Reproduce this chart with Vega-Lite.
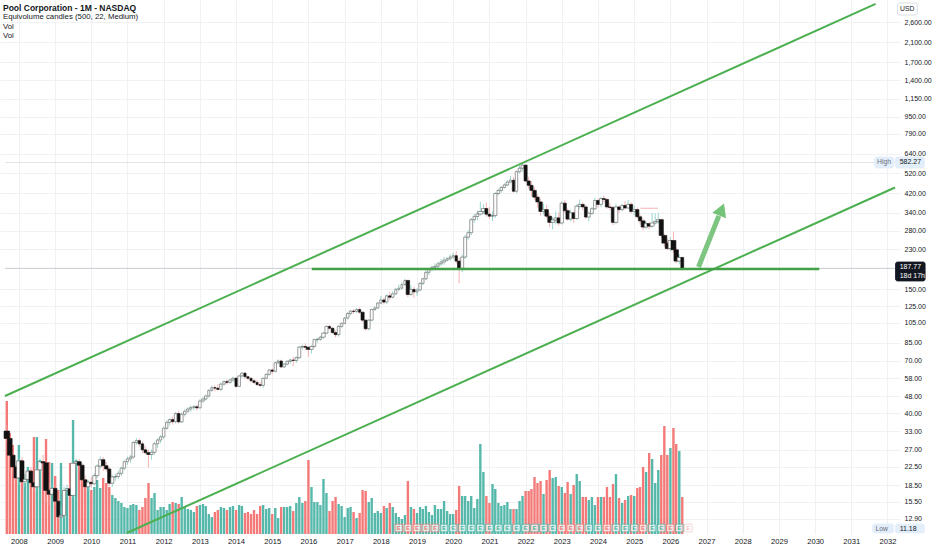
{
  "$schema": "https://vega.github.io/schema/vega-lite/v6.json",
  "width": 900,
  "height": 534,
  "autosize": "none",
  "padding": {"left": 0, "top": 0, "right": 32, "bottom": 16},
  "background": "#ffffff",
  "config": {"font": "Liberation Sans", "view": {"stroke": null}},
  "title": {
    "text": "Pool Corporation - 1M - NASDAQ",
    "subtitle": ["Equivolume candles (500, 22, Medium)", "Vol", "Vol"],
    "anchor": "start",
    "frame": "group",
    "orient": "top",
    "offset": -40,
    "dx": 3,
    "fontSize": 8.5,
    "fontWeight": "bold",
    "color": "#131722",
    "subtitleFontSize": 7.8,
    "subtitleColor": "#131722",
    "subtitlePadding": 1,
    "subtitleLineHeight": 9.5
  },
  "datasets": {
    "candles": [
      {"d":"2007-09-01","o":33,"h":35,"l":29.5,"c":30.5,"v":13.3},
      {"d":"2007-10-01","o":30.5,"h":31.5,"l":24.5,"c":25.5,"v":10.1},
      {"d":"2007-11-01","o":25.5,"h":26.5,"l":21,"c":22.5,"v":8.9},
      {"d":"2007-12-01","o":22.5,"h":23,"l":19.5,"c":20,"v":6.1},
      {"d":"2008-01-01","o":20,"h":24.8,"l":18.5,"c":24,"v":8.9},
      {"d":"2008-02-01","o":24,"h":25,"l":18.8,"c":19.2,"v":7.4},
      {"d":"2008-03-01","o":19.2,"h":20.8,"l":18.2,"c":19.7,"v":5.1},
      {"d":"2008-04-01","o":19.7,"h":22.3,"l":19.2,"c":21.5,"v":6.7},
      {"d":"2008-05-01","o":21.5,"h":22.4,"l":18.7,"c":19,"v":6.4},
      {"d":"2008-06-01","o":19,"h":19.6,"l":17.5,"c":18.2,"v":9.7},
      {"d":"2008-07-01","o":18.2,"h":22.3,"l":17.4,"c":21.8,"v":9.7},
      {"d":"2008-08-01","o":21.8,"h":24.6,"l":21.2,"c":23.8,"v":7.4},
      {"d":"2008-09-01","o":23.8,"h":25.6,"l":21.5,"c":23.5,"v":7.2},
      {"d":"2008-10-01","o":23.5,"h":24,"l":15.4,"c":17.5,"v":9.5},
      {"d":"2008-11-01","o":17.5,"h":19,"l":15,"c":16.8,"v":7.2},
      {"d":"2008-12-01","o":16.8,"h":18.6,"l":15.5,"c":17.9,"v":7.1},
      {"d":"2009-01-01","o":17.9,"h":18.5,"l":15,"c":15.6,"v":5.8},
      {"d":"2009-02-01","o":15.6,"h":16,"l":12.8,"c":13.2,"v":4.4},
      {"d":"2009-03-01","o":13.2,"h":14.8,"l":11.18,"c":13.4,"v":7.1},
      {"d":"2009-04-01","o":13.4,"h":18.2,"l":13,"c":17.5,"v":4.4},
      {"d":"2009-05-01","o":17.5,"h":18.6,"l":16.3,"c":17.8,"v":4.6},
      {"d":"2009-06-01","o":17.8,"h":19,"l":16.2,"c":16.6,"v":7.1},
      {"d":"2009-07-01","o":16.6,"h":23.9,"l":16.2,"c":23.4,"v":11.4},
      {"d":"2009-08-01","o":23.4,"h":24.6,"l":22,"c":23.8,"v":7.4},
      {"d":"2009-09-01","o":23.8,"h":24.5,"l":21.6,"c":22.9,"v":7.2},
      {"d":"2009-10-01","o":22.9,"h":23.4,"l":19,"c":19.6,"v":6.6},
      {"d":"2009-11-01","o":19.6,"h":20.5,"l":17.8,"c":18.2,"v":5.4},
      {"d":"2009-12-01","o":18.2,"h":19.6,"l":17.6,"c":19.1,"v":4.7},
      {"d":"2010-01-01","o":19.1,"h":20.2,"l":18,"c":18.8,"v":4.4},
      {"d":"2010-02-01","o":18.8,"h":21,"l":18.5,"c":20.5,"v":4.7},
      {"d":"2010-03-01","o":20.5,"h":23.1,"l":20,"c":22.7,"v":5.4},
      {"d":"2010-04-01","o":22.7,"h":25.2,"l":22.1,"c":24.3,"v":4.6},
      {"d":"2010-05-01","o":24.3,"h":25,"l":21.5,"c":22.8,"v":5.6},
      {"d":"2010-06-01","o":22.8,"h":23.7,"l":21.4,"c":22,"v":5.1},
      {"d":"2010-07-01","o":22,"h":22.5,"l":18.4,"c":18.9,"v":4.7},
      {"d":"2010-08-01","o":18.9,"h":20.6,"l":18.2,"c":20.2,"v":3.9},
      {"d":"2010-09-01","o":20.2,"h":20.9,"l":19.4,"c":20.3,"v":3.6},
      {"d":"2010-10-01","o":20.3,"h":21.6,"l":19.8,"c":21,"v":3.3},
      {"d":"2010-11-01","o":21,"h":22.6,"l":20.5,"c":22.2,"v":3.1},
      {"d":"2010-12-01","o":22.2,"h":24.1,"l":21.8,"c":23.8,"v":2.7},
      {"d":"2011-01-01","o":23.8,"h":25.1,"l":23,"c":24.5,"v":2.6},
      {"d":"2011-02-01","o":24.5,"h":25.6,"l":23.6,"c":25,"v":2.9},
      {"d":"2011-03-01","o":25,"h":29.6,"l":24.6,"c":29.2,"v":3.0},
      {"d":"2011-04-01","o":29.2,"h":30.6,"l":28.5,"c":29.8,"v":2.9},
      {"d":"2011-05-01","o":29.8,"h":30.5,"l":28,"c":28.8,"v":2.4},
      {"d":"2011-06-01","o":28.8,"h":29.5,"l":26,"c":27,"v":2.7},
      {"d":"2011-07-01","o":27,"h":28,"l":25.8,"c":26.2,"v":3.6},
      {"d":"2011-08-01","o":26.2,"h":27,"l":22.4,"c":25.7,"v":5.1},
      {"d":"2011-09-01","o":25.7,"h":27.1,"l":24.3,"c":26.3,"v":3.6},
      {"d":"2011-10-01","o":26.3,"h":29.4,"l":25.6,"c":28.8,"v":4.1},
      {"d":"2011-11-01","o":28.8,"h":30.6,"l":27.6,"c":30,"v":2.4},
      {"d":"2011-12-01","o":30,"h":31.6,"l":29,"c":31,"v":2.7},
      {"d":"2012-01-01","o":31,"h":34.6,"l":30.4,"c":34,"v":2.7},
      {"d":"2012-02-01","o":34,"h":37,"l":33.5,"c":36.2,"v":2.4},
      {"d":"2012-03-01","o":36.2,"h":37.8,"l":35,"c":37.3,"v":3.0},
      {"d":"2012-04-01","o":37.3,"h":38.4,"l":35.4,"c":36.5,"v":3.2},
      {"d":"2012-05-01","o":36.5,"h":40.4,"l":35.8,"c":39.8,"v":3.1},
      {"d":"2012-06-01","o":39.8,"h":41,"l":35.8,"c":36.4,"v":3.0},
      {"d":"2012-07-01","o":36.4,"h":40.2,"l":36,"c":39.5,"v":3.7},
      {"d":"2012-08-01","o":39.5,"h":41.6,"l":38.6,"c":40.8,"v":2.7},
      {"d":"2012-09-01","o":40.8,"h":42.6,"l":40,"c":41.8,"v":2.5},
      {"d":"2012-10-01","o":41.8,"h":43.3,"l":40.6,"c":42.5,"v":2.4},
      {"d":"2012-11-01","o":42.5,"h":43.6,"l":41.2,"c":42.8,"v":2.2},
      {"d":"2012-12-01","o":42.8,"h":43.8,"l":41,"c":42.3,"v":2.8},
      {"d":"2013-01-01","o":42.3,"h":46.4,"l":42,"c":45.5,"v":2.9},
      {"d":"2013-02-01","o":45.5,"h":47.4,"l":44.6,"c":46.5,"v":3.0},
      {"d":"2013-03-01","o":46.5,"h":48.7,"l":45.8,"c":48,"v":2.8},
      {"d":"2013-04-01","o":48,"h":51.6,"l":47.2,"c":51,"v":2.0},
      {"d":"2013-05-01","o":51,"h":53.6,"l":50.2,"c":52.5,"v":1.7},
      {"d":"2013-06-01","o":52.5,"h":53.8,"l":50.4,"c":52.2,"v":2.2},
      {"d":"2013-07-01","o":52.2,"h":54.5,"l":51,"c":51.5,"v":2.4},
      {"d":"2013-08-01","o":51.5,"h":55.6,"l":50.8,"c":54.5,"v":2.7},
      {"d":"2013-09-01","o":54.5,"h":56.8,"l":53.6,"c":56,"v":2.6},
      {"d":"2013-10-01","o":56,"h":57.4,"l":54.2,"c":55.5,"v":2.4},
      {"d":"2013-11-01","o":55.5,"h":57.8,"l":54.8,"c":57,"v":2.7},
      {"d":"2013-12-01","o":57,"h":59,"l":55.8,"c":58.1,"v":2.8},
      {"d":"2014-01-01","o":58.1,"h":58.6,"l":52.2,"c":53.2,"v":2.4},
      {"d":"2014-02-01","o":53.2,"h":60,"l":52.8,"c":59.5,"v":2.9},
      {"d":"2014-03-01","o":59.5,"h":62,"l":58.4,"c":61.3,"v":2.8},
      {"d":"2014-04-01","o":61.3,"h":61.9,"l":57.6,"c":59,"v":2.1},
      {"d":"2014-05-01","o":59,"h":59.8,"l":56.8,"c":58,"v":2.2},
      {"d":"2014-06-01","o":58,"h":58.7,"l":55.6,"c":56.5,"v":2.0},
      {"d":"2014-07-01","o":56.5,"h":57.6,"l":54.6,"c":55.5,"v":2.4},
      {"d":"2014-08-01","o":55.5,"h":57,"l":53.6,"c":54.2,"v":2.0},
      {"d":"2014-09-01","o":54.2,"h":55.8,"l":52.9,"c":53.8,"v":2.8},
      {"d":"2014-10-01","o":53.8,"h":58.6,"l":52.4,"c":58,"v":2.9},
      {"d":"2014-11-01","o":58,"h":61,"l":57.4,"c":60.5,"v":2.5},
      {"d":"2014-12-01","o":60.5,"h":64,"l":59.6,"c":63.4,"v":2.6},
      {"d":"2015-01-01","o":63.4,"h":64.4,"l":60.5,"c":62.5,"v":2.0},
      {"d":"2015-02-01","o":62.5,"h":69.2,"l":61.8,"c":68.5,"v":2.6},
      {"d":"2015-03-01","o":68.5,"h":71,"l":67.4,"c":69.8,"v":1.6},
      {"d":"2015-04-01","o":69.8,"h":70.8,"l":64.8,"c":65.5,"v":2.7},
      {"d":"2015-05-01","o":65.5,"h":68.4,"l":64.6,"c":67.5,"v":2.7},
      {"d":"2015-06-01","o":67.5,"h":70.3,"l":66.5,"c":69.5,"v":2.7},
      {"d":"2015-07-01","o":69.5,"h":71.6,"l":67.8,"c":70.5,"v":2.8},
      {"d":"2015-08-01","o":70.5,"h":73,"l":66,"c":70.2,"v":2.3},
      {"d":"2015-09-01","o":70.2,"h":73.4,"l":68.4,"c":72.3,"v":3.1},
      {"d":"2015-10-01","o":72.3,"h":82,"l":71.4,"c":81,"v":3.7},
      {"d":"2015-11-01","o":81,"h":83,"l":79,"c":81.5,"v":3.1},
      {"d":"2015-12-01","o":81.5,"h":84,"l":78.5,"c":80.8,"v":3.3},
      {"d":"2016-01-01","o":80.8,"h":81.5,"l":73,"c":79,"v":7.4},
      {"d":"2016-02-01","o":79,"h":82.5,"l":75.5,"c":81.5,"v":4.7},
      {"d":"2016-03-01","o":81.5,"h":88.4,"l":80.6,"c":87.7,"v":3.2},
      {"d":"2016-04-01","o":87.7,"h":89.6,"l":85,"c":88,"v":3.2},
      {"d":"2016-05-01","o":88,"h":91.4,"l":86.5,"c":90,"v":2.9},
      {"d":"2016-06-01","o":90,"h":95,"l":88.6,"c":94,"v":5.5},
      {"d":"2016-07-01","o":94,"h":101.8,"l":93.2,"c":101,"v":4.1},
      {"d":"2016-08-01","o":101,"h":102.6,"l":97.5,"c":99,"v":2.3},
      {"d":"2016-09-01","o":99,"h":100,"l":93.6,"c":94.5,"v":3.3},
      {"d":"2016-10-01","o":94.5,"h":97,"l":89.8,"c":92.5,"v":3.7},
      {"d":"2016-11-01","o":92.5,"h":102.4,"l":90.5,"c":101,"v":3.0},
      {"d":"2016-12-01","o":101,"h":105.6,"l":99.4,"c":104.3,"v":2.8},
      {"d":"2017-01-01","o":104.3,"h":111.5,"l":103.4,"c":110.5,"v":1.7},
      {"d":"2017-02-01","o":110.5,"h":117.6,"l":108.8,"c":116,"v":2.6},
      {"d":"2017-03-01","o":116,"h":120.6,"l":113.5,"c":119,"v":2.7},
      {"d":"2017-04-01","o":119,"h":121.2,"l":115.6,"c":118.5,"v":2.2},
      {"d":"2017-05-01","o":118.5,"h":123,"l":116.2,"c":121,"v":1.6},
      {"d":"2017-06-01","o":121,"h":123.6,"l":115.5,"c":117.5,"v":2.1},
      {"d":"2017-07-01","o":117.5,"h":118.5,"l":105.6,"c":108,"v":4.4},
      {"d":"2017-08-01","o":108,"h":108.8,"l":96.5,"c":98.5,"v":4.3},
      {"d":"2017-09-01","o":98.5,"h":109,"l":97,"c":108,"v":3.2},
      {"d":"2017-10-01","o":108,"h":122,"l":106.6,"c":121,"v":3.6},
      {"d":"2017-11-01","o":121,"h":125.4,"l":119.2,"c":123,"v":2.1},
      {"d":"2017-12-01","o":123,"h":131,"l":121.5,"c":129.6,"v":2.3},
      {"d":"2018-01-01","o":129.6,"h":140,"l":128,"c":134,"v":2.1},
      {"d":"2018-02-01","o":134,"h":137,"l":127.5,"c":131,"v":2.8},
      {"d":"2018-03-01","o":131,"h":142,"l":128.6,"c":140,"v":2.6},
      {"d":"2018-04-01","o":140,"h":146,"l":134,"c":138,"v":3.1},
      {"d":"2018-05-01","o":138,"h":147,"l":136,"c":143,"v":2.7},
      {"d":"2018-06-01","o":143,"h":152.4,"l":141,"c":150,"v":2.1},
      {"d":"2018-07-01","o":150,"h":158,"l":147,"c":152,"v":1.7},
      {"d":"2018-08-01","o":152,"h":162,"l":150,"c":158,"v":1.5},
      {"d":"2018-09-01","o":158,"h":168,"l":155.5,"c":165,"v":1.9},
      {"d":"2018-10-01","o":165,"h":167,"l":138,"c":142,"v":5.3},
      {"d":"2018-11-01","o":142,"h":156,"l":140,"c":150,"v":2.7},
      {"d":"2018-12-01","o":150,"h":154,"l":137,"c":146,"v":2.5},
      {"d":"2019-01-01","o":146,"h":152,"l":140,"c":149,"v":2.1},
      {"d":"2019-02-01","o":149,"h":162,"l":147.5,"c":160,"v":2.7},
      {"d":"2019-03-01","o":160,"h":170,"l":157,"c":168,"v":2.5},
      {"d":"2019-04-01","o":168,"h":184,"l":165.5,"c":180,"v":2.8},
      {"d":"2019-05-01","o":180,"h":189,"l":175,"c":186,"v":2.2},
      {"d":"2019-06-01","o":186,"h":193,"l":182,"c":190,"v":1.9},
      {"d":"2019-07-01","o":190,"h":198,"l":185,"c":192,"v":2.9},
      {"d":"2019-08-01","o":192,"h":202,"l":188,"c":197,"v":2.5},
      {"d":"2019-09-01","o":197,"h":207,"l":193,"c":201,"v":2.5},
      {"d":"2019-10-01","o":201,"h":212,"l":195,"c":205,"v":3.3},
      {"d":"2019-11-01","o":205,"h":212,"l":202,"c":208,"v":2.3},
      {"d":"2019-12-01","o":208,"h":218,"l":204,"c":212,"v":2.0},
      {"d":"2020-01-01","o":212,"h":222,"l":207,"c":215,"v":2.0},
      {"d":"2020-02-01","o":215,"h":226,"l":198,"c":203,"v":2.4},
      {"d":"2020-03-01","o":203,"h":210,"l":160,"c":188,"v":4.8},
      {"d":"2020-04-01","o":188,"h":218,"l":180,"c":212,"v":3.8},
      {"d":"2020-05-01","o":212,"h":268,"l":208,"c":262,"v":3.8},
      {"d":"2020-06-01","o":262,"h":282,"l":255,"c":275,"v":3.3},
      {"d":"2020-07-01","o":275,"h":322,"l":268,"c":316,"v":3.8},
      {"d":"2020-08-01","o":316,"h":336,"l":306,"c":327,"v":2.6},
      {"d":"2020-09-01","o":327,"h":348,"l":314,"c":336,"v":3.5},
      {"d":"2020-10-01","o":336,"h":383,"l":330,"c":345,"v":9.0},
      {"d":"2020-11-01","o":345,"h":372,"l":335,"c":356,"v":6.2},
      {"d":"2020-12-01","o":356,"h":380,"l":326,"c":335,"v":3.8},
      {"d":"2021-01-01","o":335,"h":362,"l":318,"c":328,"v":3.1},
      {"d":"2021-02-01","o":328,"h":345,"l":312,"c":330,"v":5.0},
      {"d":"2021-03-01","o":330,"h":424,"l":322,"c":418,"v":4.5},
      {"d":"2021-04-01","o":418,"h":440,"l":410,"c":432,"v":3.1},
      {"d":"2021-05-01","o":432,"h":452,"l":422,"c":446,"v":2.8},
      {"d":"2021-06-01","o":446,"h":466,"l":440,"c":458,"v":2.9},
      {"d":"2021-07-01","o":458,"h":482,"l":452,"c":472,"v":3.2},
      {"d":"2021-08-01","o":472,"h":505,"l":468,"c":482,"v":2.5},
      {"d":"2021-09-01","o":482,"h":498,"l":422,"c":428,"v":2.5},
      {"d":"2021-10-01","o":428,"h":535,"l":420,"c":528,"v":2.5},
      {"d":"2021-11-01","o":528,"h":565,"l":518,"c":548,"v":3.3},
      {"d":"2021-12-01","o":548,"h":582.27,"l":530,"c":566,"v":3.8},
      {"d":"2022-01-01","o":566,"h":572,"l":470,"c":478,"v":4.3},
      {"d":"2022-02-01","o":478,"h":500,"l":440,"c":456,"v":4.3},
      {"d":"2022-03-01","o":456,"h":478,"l":405,"c":432,"v":4.5},
      {"d":"2022-04-01","o":432,"h":448,"l":390,"c":402,"v":5.7},
      {"d":"2022-05-01","o":402,"h":415,"l":360,"c":382,"v":5.1},
      {"d":"2022-06-01","o":382,"h":395,"l":330,"c":345,"v":5.3},
      {"d":"2022-07-01","o":345,"h":375,"l":333,"c":352,"v":4.0},
      {"d":"2022-08-01","o":352,"h":370,"l":320,"c":328,"v":5.4},
      {"d":"2022-09-01","o":328,"h":340,"l":292,"c":307,"v":6.4},
      {"d":"2022-10-01","o":307,"h":325,"l":285,"c":315,"v":5.6},
      {"d":"2022-11-01","o":315,"h":345,"l":300,"c":322,"v":5.7},
      {"d":"2022-12-01","o":322,"h":340,"l":296,"c":305,"v":4.8},
      {"d":"2023-01-01","o":305,"h":385,"l":300,"c":377,"v":4.7},
      {"d":"2023-02-01","o":377,"h":390,"l":340,"c":348,"v":4.1},
      {"d":"2023-03-01","o":348,"h":356,"l":312,"c":318,"v":5.2},
      {"d":"2023-04-01","o":318,"h":352,"l":310,"c":340,"v":4.0},
      {"d":"2023-05-01","o":340,"h":345,"l":305,"c":320,"v":4.9},
      {"d":"2023-06-01","o":320,"h":372,"l":315,"c":365,"v":6.0},
      {"d":"2023-07-01","o":365,"h":392,"l":355,"c":372,"v":5.3},
      {"d":"2023-08-01","o":372,"h":380,"l":350,"c":362,"v":3.7},
      {"d":"2023-09-01","o":362,"h":370,"l":318,"c":325,"v":3.7},
      {"d":"2023-10-01","o":325,"h":345,"l":310,"c":338,"v":3.4},
      {"d":"2023-11-01","o":338,"h":362,"l":332,"c":355,"v":3.7},
      {"d":"2023-12-01","o":355,"h":400,"l":350,"c":388,"v":2.9},
      {"d":"2024-01-01","o":388,"h":395,"l":360,"c":372,"v":3.7},
      {"d":"2024-02-01","o":372,"h":403,"l":362,"c":396,"v":3.7},
      {"d":"2024-03-01","o":396,"h":410,"l":380,"c":392,"v":3.7},
      {"d":"2024-04-01","o":392,"h":400,"l":355,"c":362,"v":4.7},
      {"d":"2024-05-01","o":362,"h":380,"l":350,"c":360,"v":3.7},
      {"d":"2024-06-01","o":360,"h":365,"l":298,"c":307,"v":5.0},
      {"d":"2024-07-01","o":307,"h":375,"l":300,"c":362,"v":6.0},
      {"d":"2024-08-01","o":362,"h":368,"l":340,"c":352,"v":3.6},
      {"d":"2024-09-01","o":352,"h":374,"l":345,"c":368,"v":3.1},
      {"d":"2024-10-01","o":368,"h":385,"l":352,"c":358,"v":3.4},
      {"d":"2024-11-01","o":358,"h":390,"l":355,"c":372,"v":3.8},
      {"d":"2024-12-01","o":372,"h":380,"l":338,"c":345,"v":3.9},
      {"d":"2025-01-01","o":345,"h":368,"l":332,"c":352,"v":3.8},
      {"d":"2025-02-01","o":352,"h":360,"l":320,"c":326,"v":4.6},
      {"d":"2025-03-01","o":326,"h":335,"l":300,"c":312,"v":4.7},
      {"d":"2025-04-01","o":312,"h":320,"l":282,"c":292,"v":6.7},
      {"d":"2025-05-01","o":292,"h":310,"l":285,"c":303,"v":6.2},
      {"d":"2025-06-01","o":303,"h":308,"l":285,"c":295,"v":8.1},
      {"d":"2025-07-01","o":295,"h":340,"l":290,"c":305,"v":7.5},
      {"d":"2025-08-01","o":305,"h":338,"l":300,"c":310,"v":5.1},
      {"d":"2025-09-01","o":310,"h":340,"l":302,"c":316,"v":6.4},
      {"d":"2025-10-01","o":316,"h":320,"l":260,"c":267,"v":7.9},
      {"d":"2025-11-01","o":267,"h":272,"l":238,"c":246,"v":10.8},
      {"d":"2025-12-01","o":246,"h":258,"l":228,"c":232,"v":7.9},
      {"d":"2026-01-01","o":232,"h":262,"l":226,"c":253,"v":8.6},
      {"d":"2026-02-01","o":253,"h":278,"l":222,"c":229,"v":10.6},
      {"d":"2026-03-01","o":229,"h":235,"l":198,"c":203,"v":9.0},
      {"d":"2026-04-01","o":203,"h":218,"l":196,"c":211,"v":8.3},
      {"d":"2026-05-01","o":211,"h":213,"l":184,"c":187.77,"v":3.7}
    ],
    "lines": [
      {"id":"upper","k":"channel","d":"2007-08-14","p":48.0},
      {"id":"upper","k":"channel","d":"2031-09-03","p":3170},
      {"id":"lower","k":"channel","d":"2010-12-24","p":11.1},
      {"id":"lower","k":"channel","d":"2032-03-17","p":445.7},
      {"id":"support","k":"level","d":"2016-02-04","p":186.5},
      {"id":"support","k":"level","d":"2030-02-12","p":186.5},
      {"id":"last","k":"price","d":"2007-08-14","p":187.77},
      {"id":"last","k":"price","d":"2032-03-17","p":187.77},
      {"id":"ath","k":"high","d":"2007-08-14","p":582.27},
      {"id":"ath","k":"high","d":"2032-03-17","p":582.27},
      {"id":"ghost","k":"pink","d":"2025-03-04","p":357},
      {"id":"ghost","k":"pink","d":"2025-08-29","p":357},
      {"id":"arrow","k":"arrow","d":"2026-10-12","p":190.6},
      {"id":"arrow","k":"arrow","d":"2027-05-05","p":329},
      {"id":"head","k":"head","d":"2027-06-02","p":352.4}
    ],
    "earn": [
      {"d":"2018-07-01","r":"miss"},{"d":"2018-10-01","r":"miss"},{"d":"2019-01-01","r":"miss"},
      {"d":"2019-04-01","r":"miss"},{"d":"2019-07-01","r":"miss"},{"d":"2019-10-01","r":"beat"},
      {"d":"2020-01-01","r":"beat"},{"d":"2020-04-01","r":"beat"},{"d":"2020-07-01","r":"beat"},
      {"d":"2020-10-01","r":"beat"},{"d":"2021-01-01","r":"beat"},{"d":"2021-04-01","r":"beat"},
      {"d":"2021-07-01","r":"beat"},{"d":"2021-10-01","r":"beat"},{"d":"2022-01-01","r":"beat"},
      {"d":"2022-04-01","r":"beat"},{"d":"2022-07-01","r":"beat"},{"d":"2022-10-01","r":"beat"},
      {"d":"2023-01-01","r":"miss"},{"d":"2023-04-01","r":"miss"},{"d":"2023-07-01","r":"miss"},
      {"d":"2023-10-01","r":"beat"},{"d":"2024-01-01","r":"beat"},{"d":"2024-04-01","r":"miss"},
      {"d":"2024-07-01","r":"beat"},{"d":"2024-10-01","r":"beat"},{"d":"2025-01-01","r":"beat"},
      {"d":"2025-04-01","r":"miss"},{"d":"2025-07-01","r":"beat"},{"d":"2025-10-01","r":"beat"},
      {"d":"2026-01-01","r":"miss"},{"d":"2026-04-01","r":"beat"},{"d":"2026-07-01","r":"next"}
    ],
    "boxes": [
      {"k":"black","d":"2032-03-22","d2":"2033-01-15","p":201,"p2":164.1},
      {"k":"blue","d":"2031-08-25","d2":"2032-03-02","p":617.5,"p2":549},
      {"k":"blue","d":"2032-03-22","d2":"2033-01-08","p":617.5,"p2":549},
      {"k":"blue","d":"2031-08-05","d2":"2032-03-02","p":12.22,"p2":11.1},
      {"k":"blue","d":"2032-03-22","d2":"2033-01-08","p":12.22,"p2":11.1},
      {"k":"usd","d":"2032-04-11","d2":"2032-10-27","p":3203,"p2":2816}
    ],
    "labels": [
      {"k":"white","a":"left","d":"2032-05-03","p":190.6,"t":"187.77"},
      {"k":"white","a":"left","d":"2032-05-03","p":172.3,"t":"18d 17h"},
      {"k":"dark","a":"left","d":"2032-05-03","p":582.27,"t":"582.27"},
      {"k":"dark","a":"left","d":"2032-05-03","p":11.6,"t":"11.18"},
      {"k":"gray","a":"center","d":"2031-11-28","p":582.27,"t":"High"},
      {"k":"gray","a":"center","d":"2031-11-03","p":11.6,"t":"Low"},
      {"k":"dark","a":"center","d":"2032-07-19","p":3004,"t":"USD"}
    ]
  },
  "data": {"name": "candles"},
  "encoding": {
    "x": {
      "field": "d",
      "type": "temporal",
      "scale": {"domain": [{"year": 2007, "month": 8, "date": 14}, {"year": 2032, "month": 3, "date": 17}]},
      "axis": {
        "title": null,
        "values": [
          {"year": 2008}, {"year": 2009}, {"year": 2010}, {"year": 2011}, {"year": 2012},
          {"year": 2013}, {"year": 2014}, {"year": 2015}, {"year": 2016}, {"year": 2017},
          {"year": 2018}, {"year": 2019}, {"year": 2020}, {"year": 2021}, {"year": 2022},
          {"year": 2023}, {"year": 2024}, {"year": 2025}, {"year": 2026}, {"year": 2027},
          {"year": 2028}, {"year": 2029}, {"year": 2030}, {"year": 2031}, {"year": 2032}
        ],
        "format": "%Y",
        "labelFontSize": 7.6,
        "labelColor": "#131722",
        "labelPadding": 3,
        "labelOverlap": false,
        "labelFlush": false,
        "ticks": false,
        "domain": false,
        "grid": true,
        "gridColor": "#f0f1f3"
      }
    }
  },
  "layer": [
    {
      "mark": {"type": "rule", "strokeWidth": 0.8},
      "encoding": {
        "y": {
          "field": "l", "type": "quantitative",
          "scale": {"type": "log", "domain": [10.985, 3306], "nice": false},
          "axis": {
            "orient": "right",
            "title": null,
            "values": [12.9, 15.5, 18.5, 22.5, 27, 33, 40, 48, 58, 70, 85, 105, 125, 150, 230, 280, 340, 420, 520, 640, 790, 950, 1150, 1400, 1700, 2100, 2600],
            "format": ",.2f",
            "labelFontSize": 7,
            "labelColor": "#131722",
            "labelPadding": 4,
            "labelOverlap": false,
            "labelFlush": false,
            "ticks": false,
            "domain": false,
            "grid": true,
            "gridColor": "#f0f1f3"
          }
        },
        "y2": {"field": "h"},
        "color": {"value": "transparent"}
      }
    },
    {
      "mark": {"type": "bar", "width": 2.4},
      "encoding": {
        "y": {"field": "v", "type": "quantitative", "scale": {"domain": [0, 53.4], "nice": false}, "axis": null},
        "color": {"condition": {"test": "datum.c >= datum.o", "value": "#56b8aa"}, "value": "#f37a78"}
      }
    },
    {
      "data": {"name": "lines"},
      "transform": [{"filter": "indexof(['price','high','pink'], datum.k) >= 0"}],
      "mark": {"type": "line", "strokeWidth": 0.9},
      "encoding": {
        "y": {"field": "p", "type": "quantitative", "scale": {"type": "log", "domain": [10.985, 3306], "nice": false}, "axis": null},
        "detail": {"field": "id"},
        "color": {"condition": [{"test": "datum.k == 'pink'", "value": "#f6aaa9"}, {"test": "datum.k == 'high'", "value": "#dfe1e6"}], "value": "#c3c6cd"}
      }
    },
    {
      "mark": {"type": "rule", "strokeWidth": 0.8},
      "encoding": {
        "y": {"field": "l", "type": "quantitative", "scale": {"type": "log", "domain": [10.985, 3306], "nice": false}, "axis": null},
        "y2": {"field": "h"},
        "color": {"condition": {"test": "datum.c >= datum.o", "value": "#7fcdc2"}, "value": "#f4a0a0"}
      }
    },
    {
      "mark": {"type": "bar", "strokeWidth": 0.6},
      "encoding": {
        "y": {"field": "o", "type": "quantitative", "scale": {"type": "log", "domain": [10.985, 3306], "nice": false}, "axis": null},
        "y2": {"field": "c"},
        "size": {"field": "v", "type": "quantitative", "scale": {"type": "sqrt", "domain": [0, 13.3], "range": [0, 5.5]}, "legend": null},
        "fill": {"condition": {"test": "datum.c >= datum.o", "value": "#ffffff"}, "value": "#111111"},
        "stroke": {"condition": {"test": "datum.c >= datum.o", "value": "#5a5a5a"}, "value": "#111111"}
      }
    },
    {
      "data": {"name": "lines"},
      "transform": [{"filter": "datum.k == 'channel'"}],
      "mark": {"type": "line", "color": "#4caf50", "strokeWidth": 2},
      "encoding": {
        "y": {"field": "p", "type": "quantitative", "scale": {"type": "log", "domain": [10.985, 3306], "nice": false}, "axis": null},
        "detail": {"field": "id"}
      }
    },
    {
      "data": {"name": "lines"},
      "transform": [{"filter": "datum.k == 'level'"}],
      "mark": {"type": "line", "color": "#43a047", "strokeWidth": 2.4},
      "encoding": {
        "y": {"field": "p", "type": "quantitative", "scale": {"type": "log", "domain": [10.985, 3306], "nice": false}, "axis": null}
      }
    },
    {
      "data": {"name": "lines"},
      "transform": [{"filter": "datum.k == 'arrow'"}],
      "mark": {"type": "line", "color": "#66bb6a", "strokeWidth": 5, "opacity": 0.85, "strokeCap": "butt"},
      "encoding": {
        "y": {"field": "p", "type": "quantitative", "scale": {"type": "log", "domain": [10.985, 3306], "nice": false}, "axis": null}
      }
    },
    {
      "data": {"name": "lines"},
      "transform": [{"filter": "datum.k == 'head'"}],
      "mark": {"type": "point", "shape": "triangle-up", "angle": 22, "size": 220, "filled": true, "color": "#66bb6a", "opacity": 0.9},
      "encoding": {
        "y": {"field": "p", "type": "quantitative", "scale": {"type": "log", "domain": [10.985, 3306], "nice": false}, "axis": null}
      }
    },
    {
      "data": {"name": "earn"},
      "mark": {"type": "point", "shape": "square", "size": 60, "filled": true, "fill": "#ffffff", "strokeWidth": 1},
      "encoding": {
        "y": {"datum": 11.71, "type": "quantitative", "scale": {"type": "log", "domain": [10.985, 3306], "nice": false}, "axis": null},
        "stroke": {"condition": [{"test": "datum.r == 'miss'", "value": "#f07c7a"}, {"test": "datum.r == 'beat'", "value": "#4db6a8"}], "value": "#f5c6c5"}
      }
    },
    {
      "data": {"name": "earn"},
      "mark": {"type": "text", "text": "E", "fontSize": 6, "fontWeight": "bold", "baseline": "middle", "align": "center"},
      "encoding": {
        "y": {"datum": 11.71, "type": "quantitative", "scale": {"type": "log", "domain": [10.985, 3306], "nice": false}, "axis": null},
        "color": {"condition": [{"test": "datum.r == 'miss'", "value": "#f07c7a"}, {"test": "datum.r == 'beat'", "value": "#4db6a8"}], "value": "#f5c6c5"}
      }
    },
    {
      "data": {"name": "boxes"},
      "mark": {"type": "rect", "cornerRadius": 2, "strokeWidth": 0.8, "clip": false},
      "encoding": {
        "x2": {"field": "d2"},
        "y": {"field": "p", "type": "quantitative", "scale": {"type": "log", "domain": [10.985, 3306], "nice": false}, "axis": null},
        "y2": {"field": "p2"},
        "fill": {"condition": [{"test": "datum.k == 'black'", "value": "#131722"}, {"test": "datum.k == 'blue'", "value": "#e3eefb"}], "value": "#ffffff"},
        "stroke": {"condition": [{"test": "datum.k == 'black'", "value": "#131722"}, {"test": "datum.k == 'blue'", "value": "#e3eefb"}], "value": "#d1d4dc"}
      }
    },
    {
      "data": {"name": "labels"},
      "transform": [{"filter": "datum.a == 'left'"}],
      "mark": {"type": "text", "align": "left", "baseline": "middle", "fontSize": 7, "clip": false},
      "encoding": {
        "y": {"field": "p", "type": "quantitative", "scale": {"type": "log", "domain": [10.985, 3306], "nice": false}, "axis": null},
        "text": {"field": "t"},
        "color": {"condition": [{"test": "datum.k == 'white'", "value": "#ffffff"}, {"test": "datum.k == 'gray'", "value": "#6a6d78"}], "value": "#131722"}
      }
    },
    {
      "data": {"name": "labels"},
      "transform": [{"filter": "datum.a == 'center'"}],
      "mark": {"type": "text", "align": "center", "baseline": "middle", "fontSize": 6.8, "clip": false},
      "encoding": {
        "y": {"field": "p", "type": "quantitative", "scale": {"type": "log", "domain": [10.985, 3306], "nice": false}, "axis": null},
        "text": {"field": "t"},
        "color": {"condition": [{"test": "datum.k == 'white'", "value": "#ffffff"}, {"test": "datum.k == 'gray'", "value": "#6a6d78"}], "value": "#131722"}
      }
    }
  ],
  "resolve": {"scale": {"y": "independent"}}
}
